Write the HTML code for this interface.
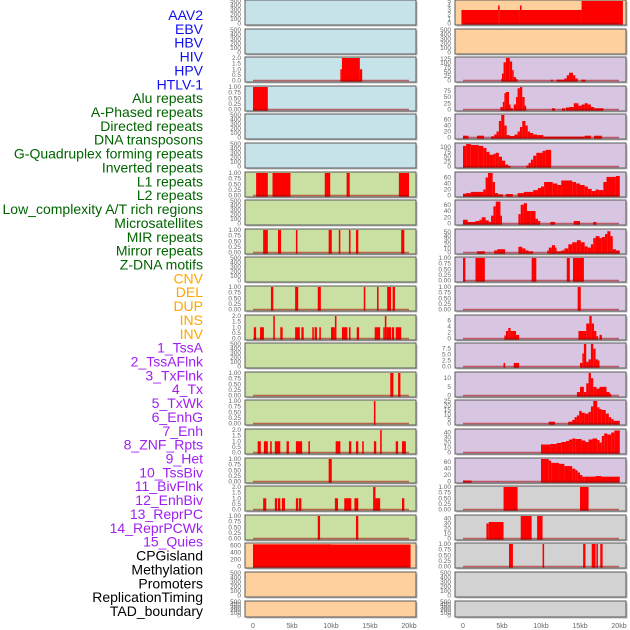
<!DOCTYPE html>
<html><head><meta charset="utf-8">
<style>
body{margin:0;background:#fff;width:630px;height:630px;overflow:hidden;font-family:"Liberation Sans",sans-serif}
svg{display:block}
</style></head>
<body>
<svg id="chart" width="630" height="630" xmlns="http://www.w3.org/2000/svg">
<g id="labels"></g>
<g id="panels"></g>
<g id="xaxis"></g>
</svg>
<script>
// ---- data ----
const trackLabels = ["AAV2","EBV","HBV","HIV","HPV","HTLV-1","Alu repeats","A-Phased repeats","Directed repeats","DNA transposons","G-Quadruplex forming repeats","Inverted repeats","L1 repeats","L2 repeats","Low_complexity A/T rich regions","Microsatellites","MIR repeats","Mirror repeats","Z-DNA motifs","CNV","DEL","DUP","INS","INV","1_TssA","2_TssAFlnk","3_TxFlnk","4_Tx","5_TxWk","6_EnhG","7_Enh","8_ZNF_Rpts","9_Het","10_TssBiv","11_BivFlnk","12_EnhBiv","13_ReprPC","14_ReprPCWk","15_Quies","CPGisland","Methylation","Promoters","ReplicationTiming","TAD_boundary"];
const labelGroups = [6,13,5,15,5];
const groupColors = ["#1010ee","#006400","#ffa500","#a020f0","#000000"];
const xTickLabels = ["0","5kb","10kb","15kb","20kb"];
const xTickValues = [0,5,10,15,20];

const T500 = ["0","100","200","300","400","500"];
const T1 = ["0.00","0.25","0.50","0.75","1.00"];
const T2 = ["0.0","0.5","1.0","1.5","2.0"];

// left column: background, ticks, ymax, segments [startKb,endKb,value]
const leftBg = ["b","b","b","b","b","b","g","g","g","g","g","g","g","g","g","g","g","g","g","p","p","p"];
const leftTicks = [T500,T500,T2,T1,T500,T500,T1,T500,T1,T500,T1,T2,T500,T1,T1,T2,T1,T2,T1,["0","200","400","600"],T500,T500];
const leftMax = [500,500,2,1,500,500,1,500,1,500,1,2,500,1,1,2,1,2,1,650,500,500];
const leftSegs = [
 [],[],
 [[11.2,11.4,1],[11.4,13.7,2],[13.7,14.0,1]],
 [[0,1.9,1]],
 [],[],
 [[0.4,1.9,1],[2.5,4.8,1],[9.2,9.9,1],[12.0,12.4,1],[18.7,20,1]],
 [],
 [[1.3,1.9,1],[3.2,3.6,1],[5.5,5.7,1],[9.7,10.1,1],[11.0,11.2,1],[12.3,12.5,1],[13.2,13.5,1],[19.0,19.4,1]],
 [],
 [[2.3,2.6,1],[5.4,5.8,1],[8.3,8.7,1],[14.2,14.4,1],[15.9,16.1,1],[17.2,17.7,1],[17.9,18.2,1]],
 [[0.1,0.4,1],[0.9,1.4,1],[2.6,2.8,2],[3.5,3.8,1],[5.4,6.0,1],[6.2,6.5,1],[7.6,7.8,1],[7.9,8.2,1],[8.5,8.7,1],[10.0,10.5,1],[10.5,10.7,2],[11.4,12.1,1],[12.3,12.5,1],[13.3,13.6,1],[15.6,16.3,1],[16.7,16.9,1],[16.9,17.1,2],[17.1,17.7,1],[17.8,18.1,1],[18.3,19.0,1]],
 [],
 [[17.6,18.0,1],[18.6,18.9,1]],
 [[15.5,15.7,1]],
 [[0.6,1.0,1],[1.4,1.9,1],[2.2,2.4,1],[2.8,3.5,1],[4.3,4.6,1],[5.5,6.3,1],[7.1,7.3,1],[10.6,11.2,1],[12.3,12.6,1],[13.2,13.5,1],[14.0,14.2,1],[15.5,15.8,1],[16.3,16.5,2],[18.3,18.6,1],[19.1,19.6,1]],
 [[9.7,10.1,1]],
 [[1.3,1.7,1],[2.8,3.1,1],[3.2,3.5,1],[3.7,4.1,1],[5.5,5.8,1],[5.9,6.2,1],[10.5,10.9,1],[11.7,12.6,1],[13.0,13.5,1],[15.4,15.7,2],[15.7,16.3,1],[19.1,19.4,1]],
 [[8.3,8.6,1],[13.2,13.5,1]],
 [[0,10,640],[10,20.2,635]],
 [],[]
];

const rightBg = ["p","p","v","v","v","v","v","v","v","v","v","v","v","v","v","v","v","r","r","r","r","r"];
const rightTicks = [["0","1","2","3","4","5"],T500,["0","25","50","75","100","125"],["0","25","50","75"],["0","20","40","60"],["0","25","50","75","100"],["0","20","40","60"],["0","20","40","60"],["0","10","20","30","40","50"],T1,T1,["0","2","4","6"],["0.0","2.5","5.0","7.5"],["0","5","10"],["0","5","10","15","20","25"],["0","10","20","30","40"],["0","20","40","60"],T1,["0","10","20","30","40"],T1,T500,T500];
const rightMax = [5,500,130,90,75,115,75,72,55,1,1,7.5,9.5,13,25,45,70,1,45,1,500,500];
const rightSegs = [
 [[-0.2,4.5,3],[4.5,4.7,4],[4.7,7.3,3],[7.3,7.5,4],[7.5,15.2,3],[15.2,20.5,5]],
 [],
 [[4.9,5.0,10],[5.0,5.2,40],[5.2,5.5,105],[5.5,6.0,130],[6.0,6.3,110],[6.3,6.5,60],[6.5,6.8,20],[6.8,7.0,8],[11.3,11.5,5],[12.0,13.0,5],[13.0,13.3,12],[13.3,13.6,30],[13.6,14.1,45],[14.1,14.4,30],[14.4,14.7,12],[15.2,15.7,5]],
 [[4.8,5.1,10],[5.1,5.3,30],[5.3,5.5,65],[5.5,5.9,70],[5.9,6.1,20],[6.1,6.4,5],[6.5,6.8,20],[6.8,7.0,50],[7.0,7.3,85],[7.3,7.6,90],[7.6,7.9,50],[7.9,8.1,15],[11.4,11.8,5],[12.7,13.1,5],[13.2,13.6,8],[13.6,14.2,10],[14.2,14.8,25],[14.8,15.2,15],[15.2,15.6,20],[15.6,16.0,25],[16.0,16.4,20],[16.4,16.8,10],[16.8,18.0,5]],
 [[0,0.7,6],[1.8,2.7,6],[3.6,4.0,4],[4.0,4.3,10],[4.3,4.6,20],[4.6,4.9,55],[4.9,5.3,75],[5.3,5.6,40],[5.6,6.0,8],[6.0,6.6,5],[6.6,7.0,10],[7.0,7.3,20],[7.3,7.6,35],[7.6,8.0,55],[8.0,8.3,40],[8.3,8.6,20],[8.6,9.0,15],[9.0,9.5,10],[9.5,10.3,8],[10.3,15.6,3],[15.6,16.4,6],[16.8,17.8,6]],
 [[0,0.4,105],[0.4,1.0,115],[1.0,2.0,110],[2.0,2.6,105],[2.6,3.0,95],[3.0,3.4,75],[3.4,3.9,60],[3.9,4.2,65],[4.2,4.6,70],[4.6,5.0,50],[5.0,5.4,30],[5.4,5.8,10],[5.8,6.1,3],[8.1,8.4,5],[8.4,8.7,18],[8.7,9.0,35],[9.0,9.4,55],[9.4,10.2,70],[10.2,10.6,80],[10.6,11.3,85]],
 [[0,0.4,6],[0.4,1.0,8],[1.0,2.6,12],[2.6,2.9,20],[2.9,3.2,60],[3.2,3.8,75],[3.8,4.1,45],[4.1,4.5,8],[4.5,5.1,4],[5.5,6.4,5],[7.0,7.8,8],[7.8,9.0,12],[9.0,9.6,18],[9.6,10.0,25],[10.0,10.4,30],[10.4,11.5,45],[11.5,12.1,40],[12.1,12.6,35],[12.6,14.0,50],[14.0,14.5,45],[14.5,15.0,40],[15.0,15.6,35],[15.6,16.0,30],[16.0,16.5,22],[16.5,17.0,15],[17.0,17.4,20],[17.4,18.0,18],[18.0,18.4,45],[18.4,19.6,62],[19.6,20.1,65]],
 [[0,0.6,12],[0.6,1.6,5],[1.6,2.1,8],[2.1,2.4,12],[2.4,2.9,20],[2.9,3.3,10],[3.3,3.6,5],[3.6,3.9,25],[3.9,4.2,55],[4.2,4.8,70],[4.8,5.0,25],[7.1,7.4,30],[7.4,7.8,60],[7.8,8.2,65],[8.2,8.6,40],[8.6,9.3,40],[9.3,9.6,15],[9.6,9.9,8],[11.2,11.8,5],[14.2,15.0,8],[16.7,17.1,5]],
 [[1.8,2.8,3],[4.0,4.4,5],[4.4,5.4,8],[7.1,7.6,14],[7.6,8.0,10],[8.0,8.4,5],[8.4,9.0,3],[10.8,11.0,5],[11.0,11.4,12],[11.4,11.8,18],[11.8,12.0,12],[12.0,12.6,3],[12.6,13.0,5],[13.0,13.5,10],[13.5,14.0,20],[14.0,14.6,25],[14.6,15.1,30],[15.1,15.6,25],[15.6,16.0,15],[16.0,16.4,12],[16.4,16.7,20],[16.7,17.0,35],[17.0,17.5,40],[17.5,17.8,35],[17.8,18.2,38],[18.2,18.5,45],[18.5,18.9,52],[18.9,19.2,40],[19.2,19.6,8],[19.6,20.1,5]],
 [[0,0.3,1],[1.6,2.8,1],[8.8,9.4,1],[13.3,13.7,1],[14.1,15.5,1]],
 [[14.7,15.1,1]],
 [[5.3,5.5,1],[5.5,5.8,2.5],[5.8,6.1,3.5],[6.1,6.8,2.5],[6.8,7.2,1.2],[14.8,15.8,2.5],[15.8,16.2,5],[16.2,16.5,7.5],[16.5,16.8,5],[16.8,17.1,2.5],[17.1,17.3,0.8],[17.5,17.8,1.2]],
 [[5.2,5.4,1.5],[6.5,7.2,1.5],[15.0,15.3,1.5],[15.3,15.5,5.5],[15.5,15.8,9.5],[15.8,16.1,2],[16.1,16.4,3],[16.4,16.7,9.5],[16.7,17.0,7.5],[17.0,17.3,3],[17.3,17.5,2.5]],
 [[14.6,15.0,2],[15.0,15.5,5],[15.5,15.8,2],[15.8,16.1,7],[16.1,16.4,13],[16.4,16.7,10],[16.7,17.1,5],[17.1,17.5,4],[17.5,18.4,5],[18.4,18.8,2],[18.8,19.0,1]],
 [[11.0,11.8,2],[13.5,14.0,2],[14.0,14.3,4],[14.3,14.6,7],[14.6,14.9,9],[14.9,15.2,14],[15.2,15.6,12],[15.6,16.1,11],[16.1,16.4,13],[16.4,16.7,19],[16.7,17.2,25],[17.2,17.5,18],[17.5,17.8,16],[17.8,18.3,15],[18.3,18.7,11],[18.7,19.0,7],[19.0,19.3,5],[19.3,20.1,3]],
 [[10.0,11.2,16],[11.2,12.0,17],[12.0,12.6,19],[12.6,13.2,21],[13.2,13.6,23],[13.6,14.0,26],[14.0,14.4,28],[14.4,15.2,27],[15.2,15.7,24],[15.7,16.1,21],[16.1,16.6,26],[16.6,17.2,28],[17.2,17.5,25],[17.5,17.8,20],[17.8,18.1,33],[18.1,18.5,38],[18.5,19.0,36],[19.0,19.4,40],[19.4,20.1,44]],
 [[0,1.1,3],[10.0,11.0,70],[11.0,11.3,65],[11.3,12.3,58],[12.3,13.0,55],[13.0,14.0,48],[14.0,14.4,40],[14.4,14.7,35],[14.7,15.0,28],[15.0,15.3,20],[15.3,15.6,15],[15.6,17.0,15],[17.0,17.7,17],[17.7,20.1,15]],
 [[5.2,7.0,1],[15.0,16.1,1]],
 [[3.0,3.3,30],[3.3,5.2,33],[7.4,8.8,45],[9.5,10.2,45]],
 [[5.9,6.4,1],[10.2,10.4,1],[15.4,15.7,1],[16.5,17.0,1],[17.1,17.3,1],[17.6,17.9,1]],
 [],[]
];

// ---- rendering ----
const NS = "http://www.w3.org/2000/svg";
const bgColors = {b:"#c6e3ea",g:"#c9e0a2",p:"#fed09e",v:"#d7c5e1",r:"#d2d2d2"};
const colX = [245,455];
const panelW = 171;
function xScale(col, kb){ return colX[col] + 8 + kb*7.8; }
function rowTop(i){ return i===21 ? 601 : Math.round(i*28.6); }
function rowH(i){ return i===21 ? 16 : 25; }
function yScale(i, v, ymax){ const t=rowTop(i), h=rowH(i); return t + 1 + (1 - v/ymax)*(h-2.5); }
function mk(tag, attrs, parent){ const e=document.createElementNS(NS,tag); for(const k in attrs) e.setAttribute(k,attrs[k]); parent.appendChild(e); return e; }

const labelsG = document.getElementById('labels');
let gi=0, cnt=0;
trackLabels.forEach((lab, i) => {
  while(cnt >= labelGroups[gi]){ cnt=0; gi++; }
  cnt++;
  const t = mk('text',{x:203,y:15+i*13.86+5,'text-anchor':'end','font-size':'14',fill:groupColors[gi]},labelsG);
  t.textContent = lab;
  
  
});

const panelsG = document.getElementById('panels');
function drawCol(col, bgs, ticks, maxes, segs){
  for(let i=0;i<bgs.length;i++){
    const g = mk('g',{},panelsG);
    
    
    const top=rowTop(i), h=rowH(i);
    mk('rect',{x:colX[col]+1.5,y:top+1.5,width:panelW,height:h,fill:'#bbb'},g);
    mk('rect',{x:colX[col],y:top,width:panelW,height:h,fill:bgColors[bgs[i]],stroke:'#5a5a5a','stroke-width':1},g);
    const ymax=maxes[i];
    ticks[i].forEach(tl=>{
      const v=parseFloat(tl);
      const tt=mk('text',{x:colX[col]-4,y:yScale(i,v,ymax)+2,'text-anchor':'end','font-size':'6.5',fill:'#666'},g);
      tt.textContent=tl;
      
      
    });
    if(segs[i].length){
      segs[i].forEach(s=>{
        const x0=xScale(col,s[0]), x1=xScale(col,s[1]);
        const y0=yScale(i,0,ymax), y1=yScale(i,s[2],ymax);
        const r=mk('rect',{x:x0,y:y1,width:Math.max(1,x1-x0),height:y0-y1+1,fill:'#ff0000'},g);
        
        
      });
      const bl=mk('line',{x1:xScale(col,0),x2:xScale(col,20),y1:yScale(i,0,ymax),y2:yScale(i,0,ymax),stroke:'rgba(170,0,0,0.55)','stroke-width':1.5},g);
      
      
    }
  }
}
drawCol(0,leftBg,leftTicks,leftMax,leftSegs);
drawCol(1,rightBg,rightTicks,rightMax,rightSegs);

const xg=document.getElementById('xaxis');
[0,1].forEach(col=>{
  xTickValues.forEach((v,k)=>{
    const t=mk('text',{x:xScale(col,v),y:628,'text-anchor':'middle','font-size':'7',fill:'#666'},xg);
    t.textContent=xTickLabels[k];
    
    
  });
});
</script>
</body></html>
